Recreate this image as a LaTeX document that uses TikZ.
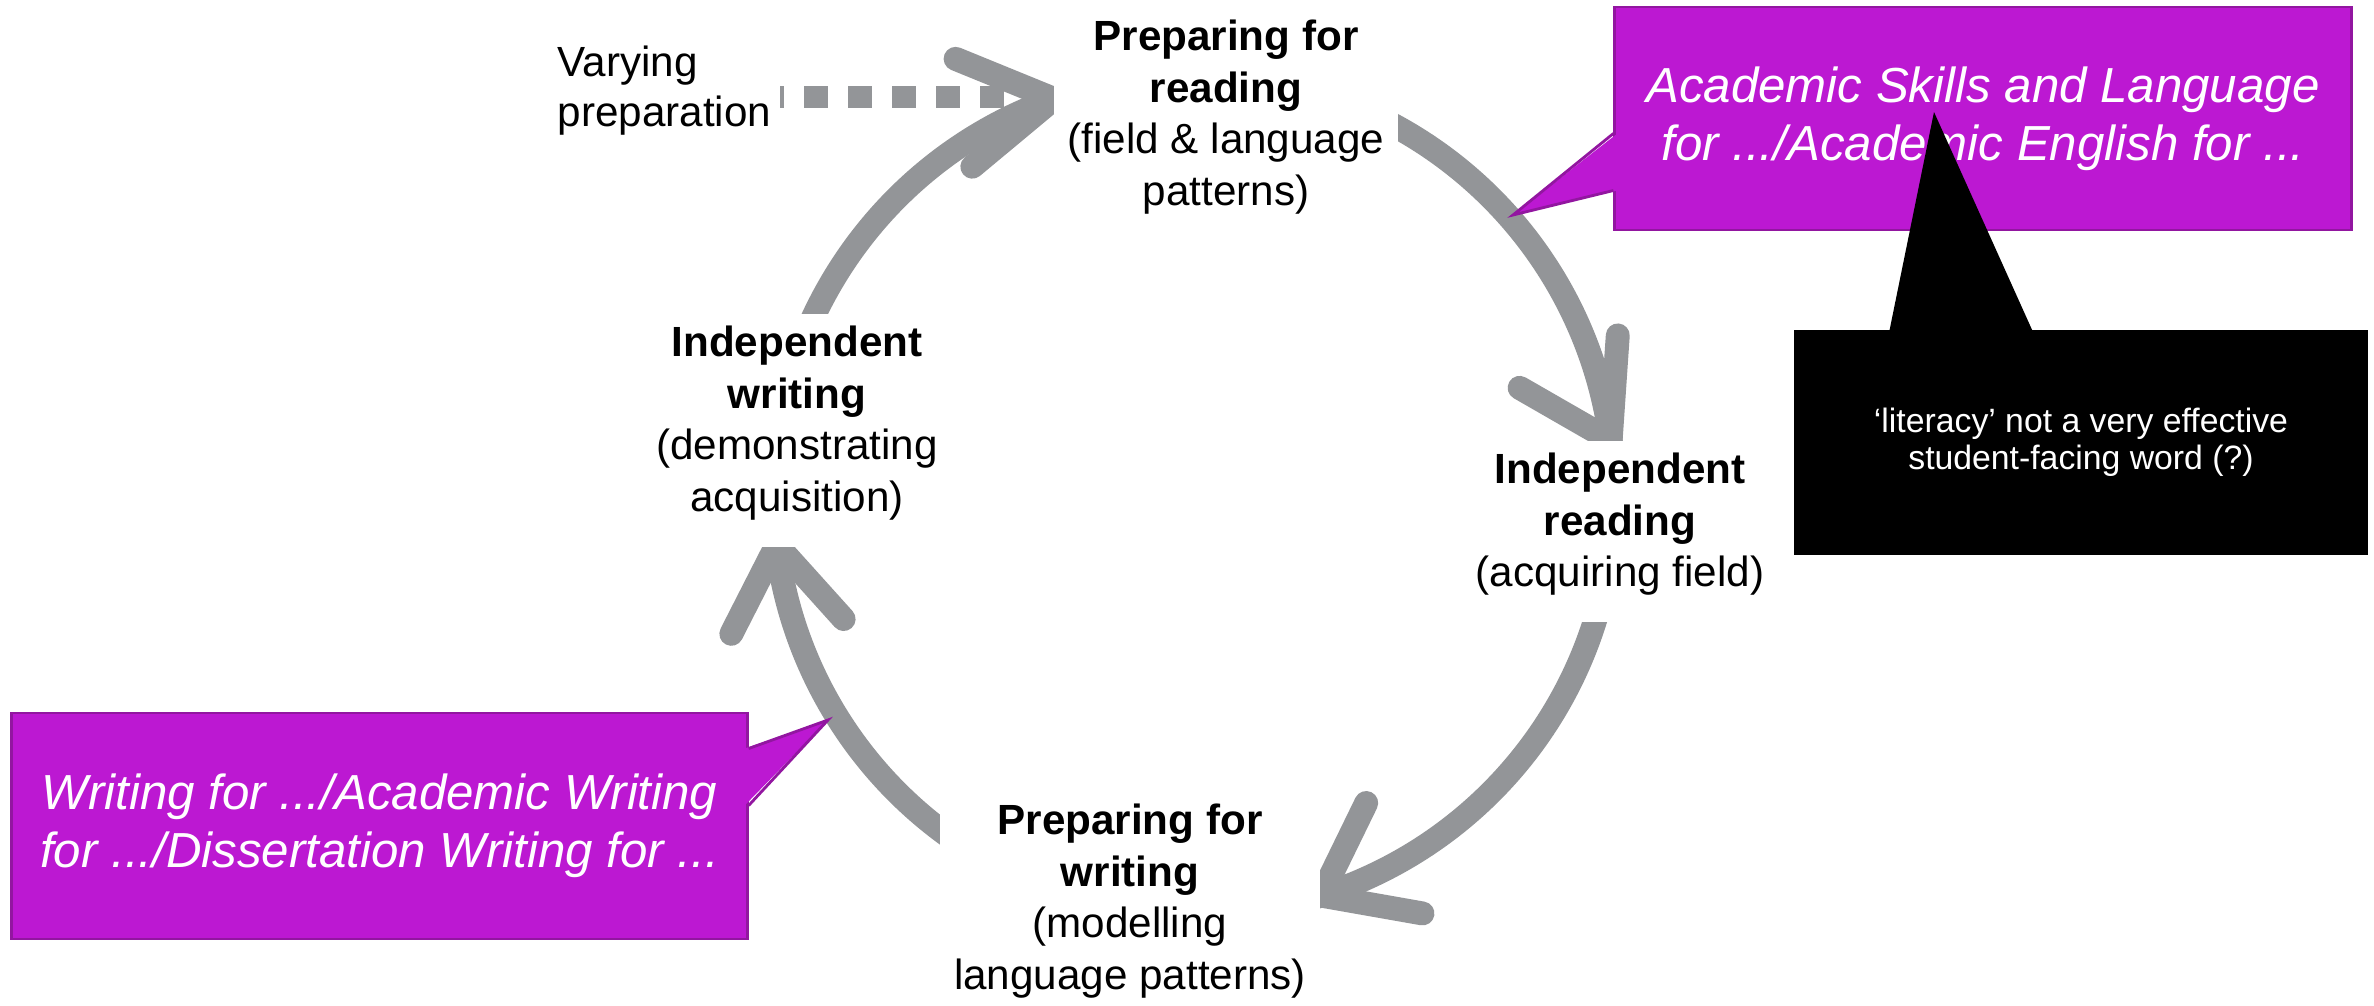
\documentclass[tikz,border=0pt]{standalone}
\usepackage{fontspec}
\setmainfont{Liberation Sans}
\usetikzlibrary{calc}

\definecolor{cyclegray}{RGB}{147,149,152}
\definecolor{noteviolet}{RGB}{188,24,210}
\definecolor{noteedge}{RGB}{146,22,160}

\pgfdeclarelayer{behind}
\pgfsetlayers{behind,main}

% extra room below the last line of a stage label
\newcommand\stagegap{\rule[-6.5pt]{0pt}{0pt}}
% open arrowhead: tip, axis angle (pointing back), half opening angle, barb length
\newcommand\cyclehead[4]{%
  \draw[cycle head] ($(#1)+({#2+#3}:#4)$) -- (#1) -- ($(#1)+({#2-#3}:#4)$);}

\tikzset{
  stage/.style={fill=white, align=center, inner xsep=4pt, inner ysep=3.5pt,
    font=\fontsize{12}{14.7}\selectfont, anchor=north},
  cycle arc/.style={draw=cyclegray, line width=6.8pt},
  cycle head/.style={draw=cyclegray, line width=6.8pt, line cap=round,
    line join=miter},
  prep line/.style={draw=cyclegray, line width=6.5pt,
    dash pattern=on 6.83pt off 5.69pt, dash phase=5.69pt},
  note/.style={fill=noteviolet, draw=noteedge, line width=0.8pt, text=white,
    font=\fontsize{14}{16.5}\selectfont\itshape, align=center, inner sep=0pt},
  note tail/.style={fill=noteviolet},
  note edge/.style={draw=noteedge, line width=0.8pt, line join=miter},
  remark/.style={fill=black, text=white, align=center, inner sep=0pt,
    font=\fontsize{9.6}{10.5}\selectfont},
}

\begin{document}
\begin{tikzpicture}[x=0.01cm, y=0.01cm]
\useasboundingbox (0,0) rectangle (2374,-1006);

% centre of the reading/writing cycle and the arrow tips on it
\coordinate (hub) at (1194,-495);
\coordinate (tipPR) at ([shift={(109.5:4.2cm)}]hub);
\coordinate (tipIR) at ([shift={(7.5:4.2cm)}]hub);
\coordinate (tipPW) at ([shift={(-72.4:4.2cm)}]hub);
\coordinate (tipIW) at ([shift={(186.8:4.2cm)}]hub);

% stage labels (white boxes mask the ends of the cycle arrows)
\node[stage] (pr) at (1226,-7)
  {\textbf{Preparing for}\\\textbf{reading}\\(field \& language\\patterns)\stagegap};
\node[stage] (ir) at (1620,-440)
  {\textbf{Independent}\\\textbf{reading}\\(acquiring field)\stagegap};
\node[stage] (pw) at (1130,-791)
  {\textbf{Preparing for}\\\textbf{writing}\\(modelling\\language patterns)\stagegap};
\node[stage] (iw) at (797,-313)
  {\textbf{Independent}\\\textbf{writing}\\(demonstrating\\acquisition)\stagegap};

\node[anchor=north west, inner sep=0pt, align=left,
      font=\fontsize{12}{14.2}\selectfont] (vp) at (557,-45)
  {Varying\\preparation};
\coordinate (vptail) at (780,-97);

\begin{pgfonlayer}{behind}
  \fill[white] (0,0) rectangle (2374,-1006);
  % dashed feed into the cycle
  \draw[prep line] (vptail) -- (vptail -| pr.west);
  % the four cycle arcs, each starting inside the stage it leaves
  \draw[cycle arc] ([shift={(157.4:4.2cm)}]hub)
    arc[start angle=157.4, end angle=108.7, radius=4.2cm];
  \draw[cycle arc] ([shift={(64.7:4.2cm)}]hub)
    arc[start angle=64.7, end angle=6.7, radius=4.2cm];
  \draw[cycle arc] ([shift={(-14.4:4.2cm)}]hub)
    arc[start angle=-14.4, end angle=-73.2, radius=4.2cm];
  \draw[cycle arc] ([shift={(235.3:4.2cm)}]hub)
    arc[start angle=235.3, end angle=186, radius=4.2cm];
  % arrowheads
  \cyclehead{tipPR}{188.8}{31}{106}
  \cyclehead{tipIR}{118.1}{32}{105}
  \cyclehead{tipPW}{27}{37}{103}
  \cyclehead{tipIW}{277.5}{34.5}{100}
\end{pgfonlayer}

% course-name callouts
\node[note, minimum width=7.36cm, minimum height=2.23cm] (skills) at (1983,-118.5)
  {Academic Skills and Language\\for .../Academic English for ...};
\coordinate (skillstip) at (1513,-215);
\fill[note tail] ($(skills.north west)+(4,-128)$) -- (skillstip)
  -- ($(skills.north west)+(4,-185)$) -- cycle;
\draw[note edge] ($(skills.north west)+(0,-128)$) -- (skillstip)
  -- ($(skills.north west)+(0,-185)$);

\node[note, minimum width=7.35cm, minimum height=2.26cm] (writing) at (379.5,-826)
  {Writing for .../Academic Writing\\for .../Dissertation Writing for ...};
\coordinate (writingtip) at (828,-720);
\fill[note tail] ($(writing.north east)+(-4,-37)$) -- (writingtip)
  -- ($(writing.north east)+(-4,-94)$) -- cycle;
\draw[note edge] ($(writing.north east)+(0,-37)$) -- (writingtip)
  -- ($(writing.north east)+(0,-94)$);

% remark about the word 'literacy'
\node[remark, minimum width=5.74cm, minimum height=2.25cm] (remark) at (2081,-442.5)
  {‘literacy’ not a very effective\\student-facing word (?)};
\coordinate (remarktip) at (1934,-112);
\fill[black] ($(remark.north west)+(96,-3)$) -- (remarktip)
  -- ($(remark.north west)+(240,-3)$) -- cycle;
\end{tikzpicture}
\end{document}
